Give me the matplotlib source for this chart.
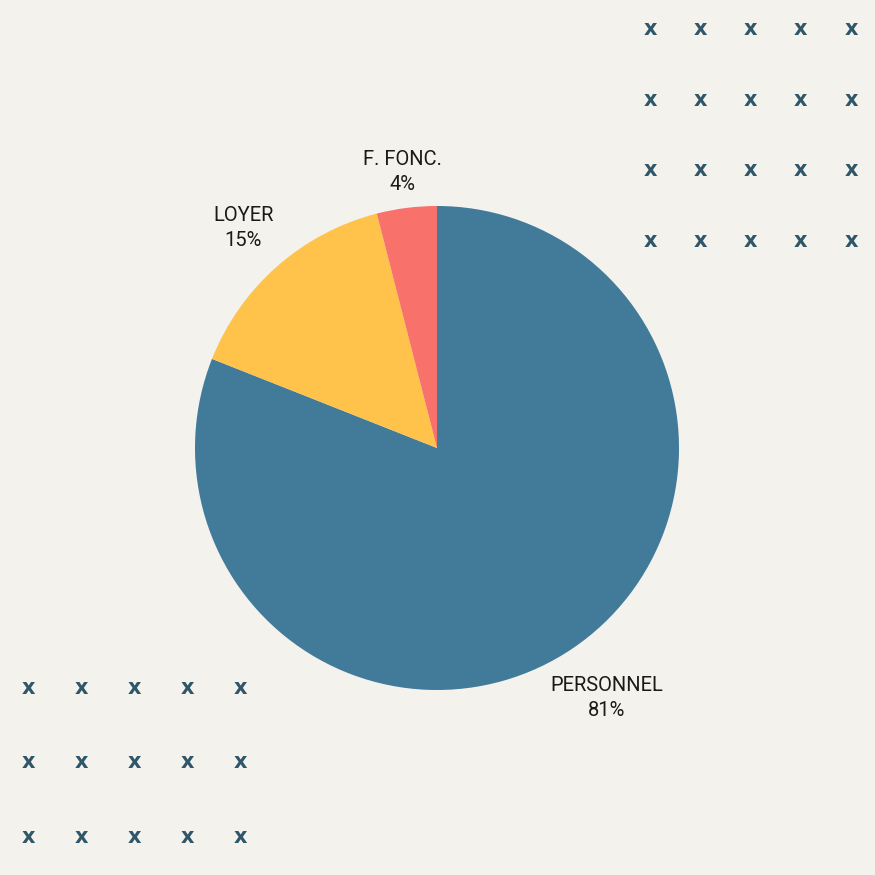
import numpy as np
import matplotlib.pyplot as plt

# Données
labels = ['PERSONNEL', 'LOYER', 'F. FONC.']
values = [81, 15, 4]
colors = ['#427a99', '#ffc24b', '#f8716b']
label_dist = [1.25, 1.21, 1.15]

bg = '#f3f2ed'
xcol = '#2f5669'

fig = plt.figure(figsize=(8.75, 8.75), dpi=100, facecolor=bg)
ax = fig.add_axes([0, 0, 1, 1])
ax.set_facecolor(bg)

cx, cy, r = 437, 875 - 448, 242
wedges, _ = ax.pie(values, colors=colors, startangle=90, counterclock=False,
                   center=(cx, cy), radius=r, frame=True,
                   wedgeprops=dict(linewidth=0))
ax.set_xlim(0, 875)
ax.set_ylim(0, 875)
ax.set_aspect('equal')
ax.axis('off')

# Étiquettes
for w, lab, v, d in zip(wedges, labels, values, label_dist):
    ang = np.deg2rad((w.theta1 + w.theta2) / 2)
    x = cx + d * r * np.cos(ang)
    y = cy + d * r * np.sin(ang)
    ax.text(x, y, f'{lab}\n{v}%', ha='center', va='center', fontsize=14.5,
            family='Roboto', color='#1a1a1a', linespacing=1.4)

# Décor : grilles de x
for gx in np.linspace(650, 851, 5):
    for gy in np.linspace(29, 241, 4):
        ax.text(gx, 875 - gy, 'x', ha='center', va='center', fontsize=15,
                fontweight='bold', color=xcol, family='DejaVu Sans')
for gx in np.linspace(28, 240, 5):
    for gy in np.linspace(688, 837, 3):
        ax.text(gx, 875 - gy, 'x', ha='center', va='center', fontsize=15,
                fontweight='bold', color=xcol, family='DejaVu Sans')

fig.savefig('out.png', dpi=100, facecolor=bg)
